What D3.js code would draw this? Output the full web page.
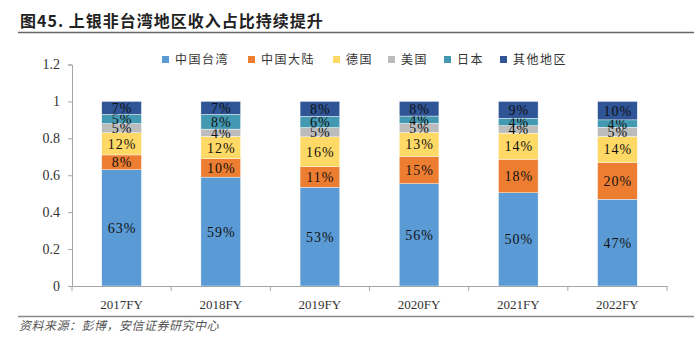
<!DOCTYPE html>
<html>
<head>
<meta charset="utf-8">
<script src="https://cdn.jsdelivr.net/npm/d3@7"></script>
<style>
  body { margin: 0; background: #fff; }
  svg { display: block; }
  .serif { font-family: "Liberation Serif", "Times New Roman", serif; }
</style>
</head>
<body>
<svg width="694" height="339"></svg>
<script>
const years = ['2017FY', '2018FY', '2019FY', '2020FY', '2021FY', '2022FY'];
const seriesNames = ['中国台湾', '中国大陆', '德国', '美国', '日本', '其他地区'];
const taiwan = [63, 59, 53, 56, 50, 47];
const mainland = [8, 10, 11, 15, 18, 20];
const germany = [12, 12, 16, 13, 14, 14];
const usa = [5, 4, 5, 5, 4, 5];
const japan = [5, 8, 6, 4, 4, 4];
const others = [7, 7, 8, 8, 9, 10];
const yTicks = [0, 0.2, 0.4, 0.6, 0.8, 1, 1.2];
const colors = ['#5b9bd5', '#ed7d31', '#ffd966', '#bcbcbc', '#4399b1', '#2f5597'];

const seriesVals = [taiwan, mainland, germany, usa, japan, others];
const table = years.map((y, i) => {
  const row = { year: y };
  seriesNames.forEach((s, j) => { row[s] = seriesVals[j][i]; });
  return row;
});

const svg = d3.select('svg');

// title
svg.append('text')
  .attr('x', 20).attr('y', 27)
  .attr('font-family', '"Noto Sans CJK SC", sans-serif')
  .attr('font-weight', 'bold')
  .attr('font-size', 16)
  .attr('letter-spacing', 1)
  .attr('fill', '#222')
  .text('图45. 上银非台湾地区收入占比持续提升');

svg.append('line')
  .attr('x1', 18).attr('x2', 694).attr('y1', 32.5).attr('y2', 32.5)
  .attr('stroke', '#666').attr('stroke-width', 1.5);

const x = d3.scaleBand().domain(years).range([72, 667]).paddingInner(0.6).paddingOuter(0.3);
const xb = d3.scaleBand().domain(years).range([72, 667]);
const y = d3.scaleLinear().domain([0, 1.2]).range([286, 64.5]);

// shares are shown as parts of each year's whole
const stack = d3.stack().keys(seriesNames).offset(d3.stackOffsetExpand)(table);

const groups = svg.append('g').selectAll('g')
  .data(stack).enter().append('g')
  .attr('fill', (d, i) => colors[i]);

groups.selectAll('rect')
  .data(d => d).enter().append('rect')
  .attr('x', d => x(d.data.year))
  .attr('width', x.bandwidth())
  .attr('y', d => y(d[1]))
  .attr('height', d => y(d[0]) - y(d[1]))
  .attr('stroke', '#fff').attr('stroke-width', 0.4);

groups.selectAll('text')
  .data(d => d.map(v => Object.assign({ key: d.key }, v))).enter().append('text')
  .attr('class', 'serif')
  .attr('x', d => x(d.data.year) + x.bandwidth() / 2 + 0.5)
  .attr('y', d => (y(d[0]) + y(d[1])) / 2 + 5)
  .attr('text-anchor', 'middle')
  .attr('font-size', 14)
  .attr('letter-spacing', 1)
  .attr('fill', '#111')
  .text(d => `${d.data[d.key]}%`);

// y axis
const yAxis = svg.append('g')
  .attr('transform', 'translate(72,0)')
  .call(d3.axisLeft(y).tickValues(yTicks).tickSize(4).tickPadding(8).tickFormat(d3.format('')));
yAxis.selectAll('path, line').attr('stroke', '#a6a6a6');
yAxis.selectAll('text')
  .attr('class', 'serif').attr('font-size', 14).attr('fill', '#333');

// x axis
const xAxis = svg.append('g')
  .attr('transform', 'translate(0,286)')
  .call(d3.axisBottom(xb).tickSize(0).tickPadding(14));
xAxis.select('.domain').attr('stroke', '#a6a6a6');
xAxis.selectAll('text')
  .attr('class', 'serif').attr('font-size', 13).attr('fill', '#333');
xAxis.selectAll('.bound')
  .data(years.concat(['end'])).enter().append('line')
  .attr('x1', (d, i) => i < years.length ? xb(d) : 667)
  .attr('x2', (d, i) => i < years.length ? xb(d) : 667)
  .attr('y1', 0).attr('y2', 5)
  .attr('stroke', '#a6a6a6');

// legend
const legendX = [162, 248, 333, 388, 444, 500];
const legend = svg.append('g').selectAll('g')
  .data(seriesNames).enter().append('g')
  .attr('transform', (d, i) => `translate(${legendX[i]},56)`);
legend.append('rect')
  .attr('width', 7).attr('height', 7)
  .attr('fill', (d, i) => colors[i]);
legend.append('text')
  .attr('x', 13).attr('y', 8)
  .attr('font-family', '"Noto Sans CJK SC", sans-serif')
  .attr('font-size', 12)
  .attr('letter-spacing', 1.5)
  .attr('fill', '#333')
  .text(d => d);

// footer
svg.append('line')
  .attr('x1', 18).attr('x2', 694).attr('y1', 316.5).attr('y2', 316.5)
  .attr('stroke', '#888').attr('stroke-width', 1.5);
svg.append('text')
  .attr('x', 19).attr('y', 330)
  .attr('font-family', '"Noto Sans CJK SC", sans-serif')
  .attr('font-style', 'italic')
  .attr('font-size', 12)
  .attr('letter-spacing', 0.5)
  .attr('fill', '#555')
  .text('资料来源：彭博，安信证券研究中心');
</script>
</body>
</html>
